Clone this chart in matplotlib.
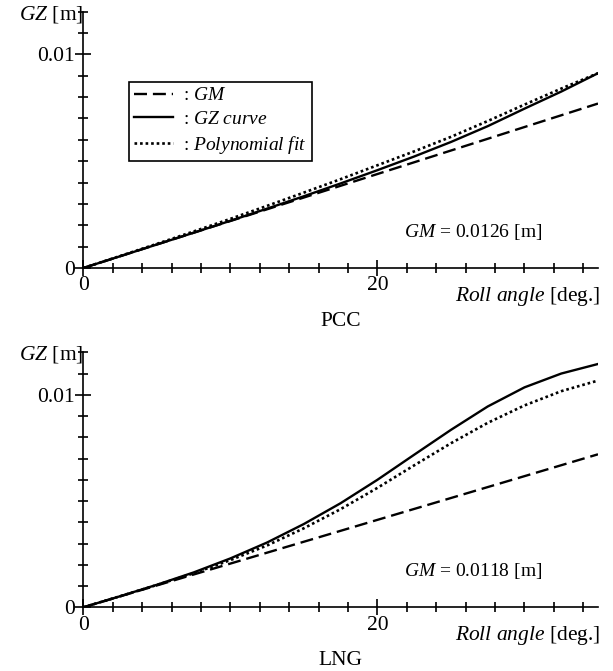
import numpy as np
import matplotlib.pyplot as plt
from matplotlib.ticker import MultipleLocator, FixedLocator

plt.rcParams['font.family'] = ['Liberation Serif', 'DejaVu Serif']
plt.rcParams['mathtext.fontset'] = 'custom'
plt.rcParams['mathtext.rm'] = 'Liberation Serif'
plt.rcParams['mathtext.it'] = 'Liberation Serif:italic'

# roll angle [deg.]
angles = [0, 2.5, 5, 7.5, 10, 12.5, 15, 17.5, 20, 22.5, 25, 27.5, 30, 32.5, 35]

# PCC
pcc_gm_angles = [0, 35]
pcc_gm_line = [0, 0.0077]
pcc_gz = [0, 0.00055, 0.00110, 0.00165, 0.00221, 0.00278, 0.00336, 0.00396,
          0.00458, 0.00522, 0.00590, 0.00664, 0.00746, 0.00826, 0.00912]
pcc_fit = [0, 0.00056, 0.00113, 0.00171, 0.00230, 0.00291, 0.00353, 0.00416,
           0.00481, 0.00546, 0.00614, 0.00688, 0.00765, 0.00840, 0.00912]
pcc_gm_text = '0.0126'

# LNG
lng_gm_angles = [0, 35]
lng_gm_line = [0, 0.0072]
lng_gz = [0, 0.00052, 0.00106, 0.00164, 0.00230, 0.00305, 0.00392, 0.00490,
          0.00600, 0.00718, 0.00835, 0.00945, 0.01035, 0.01100, 0.01145]
lng_fit = [0, 0.00052, 0.00105, 0.00160, 0.00222, 0.00291, 0.00372, 0.00462,
           0.00562, 0.00668, 0.00772, 0.00868, 0.00950, 0.01017, 0.01067]
lng_gm_text = '0.0118'

FS = 15.5


def draw_panel(ax, gm_x, gm_y, gz, fit, gm_text, name, legend=False):
    ax.plot(gm_x, gm_y, color='black', lw=1.7, ls=(0, (5.5, 2.5)), label=r': $\mathit{GM}$')
    ax.plot(angles, gz, color='black', lw=1.7, label=r': $\mathit{GZ\ curve}$')
    ax.plot(angles, fit, color='black', lw=1.9, ls=(0, (1, 1.1)), label=r': $\mathit{Polynomial\ fit}$')

    ax.set_xlim(0, 35)
    ax.set_ylim(0, 0.012)
    for s in ['top', 'right']:
        ax.spines[s].set_visible(False)
    for s in ['left', 'bottom']:
        ax.spines[s].set_linewidth(1.2)

    ax.xaxis.set_major_locator(FixedLocator([0, 20]))
    ax.xaxis.set_minor_locator(MultipleLocator(2))
    ax.yaxis.set_major_locator(FixedLocator([0, 0.01]))
    ax.yaxis.set_minor_locator(MultipleLocator(0.001))
    ax.set_xticklabels(['0', '20'])
    ax.set_yticklabels(['0', '0.01'])
    ax.tick_params(which='major', direction='inout', length=12, width=1.2,
                   labelsize=FS, pad=0)
    ax.tick_params(which='minor', direction='inout', length=7, width=1.2)

    ax.text(0, 0.99, r'$\mathit{GZ}$ [m]', transform=ax.transAxes, ha='right',
            va='center', fontsize=FS)
    ax.text(1.005, -0.11, r'$\mathit{Roll\ angle}$ [deg.]', transform=ax.transAxes,
            ha='right', va='center', fontsize=FS)
    ax.text(0.5, -0.21, name, transform=ax.transAxes, ha='center', va='center',
            fontsize=FS)
    ax.text(26.5, 0.0017, r'$\mathit{GM}$ = ' + gm_text + ' [m]', ha='center',
            va='center', fontsize=14)

    if legend:
        leg = ax.legend(loc='upper left', bbox_to_anchor=(129 / 613, 1 - 82 / 671),
                        bbox_transform=ax.figure.transFigure, borderaxespad=0,
                        fontsize=14, handlelength=2.0, handletextpad=0.55,
                        fancybox=False, framealpha=1, borderpad=0.25,
                        labelspacing=0.3)
        leg.get_frame().set_edgecolor('black')
        leg.get_frame().set_linewidth(1.2)


fig = plt.figure(figsize=(6.13, 6.71), dpi=100)
ax1 = fig.add_axes([83.3 / 613, 1 - 268 / 671, 514.7 / 613, 256.3 / 671])
ax2 = fig.add_axes([83.3 / 613, 1 - 607.3 / 671, 514.7 / 613, 255 / 671])

draw_panel(ax1, pcc_gm_angles, pcc_gm_line, pcc_gz, pcc_fit, pcc_gm_text, 'PCC', legend=True)
draw_panel(ax2, lng_gm_angles, lng_gm_line, lng_gz, lng_fit, lng_gm_text, 'LNG')

fig.savefig('out.png', dpi=100)
